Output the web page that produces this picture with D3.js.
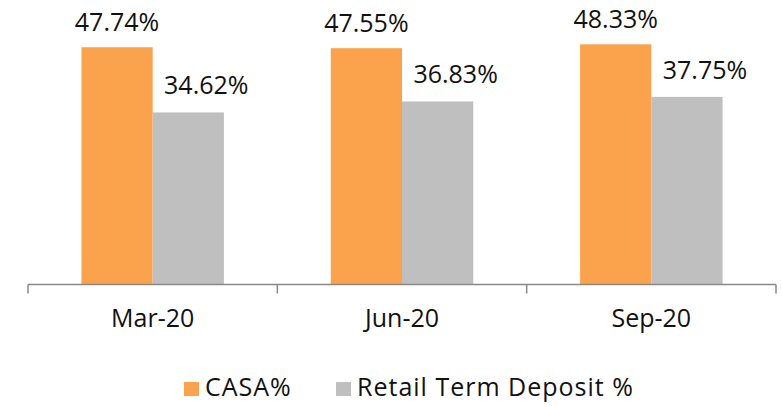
<!DOCTYPE html>
<html lang="en"><head><meta charset="utf-8">
<title>CASA chart</title>
<script type="text/javascript" src="https://cdn.jsdelivr.net/npm/d3@7"></script>
<style>
  body { margin: 0; background: #fff; }
  text { font-family: "Open Sans", sans-serif; fill: #111; }
</style>
</head>
<body>
<script type="text/javascript">
    // data
    var quarters = ["Mar-20", "Jun-20", "Sep-20"];
    var casa = [47.74, 47.55, 48.33];
    var retailTerm = [34.62, 36.83, 37.75];
    var seriesNames = ["CASA%", "Retail Term Deposit %"];
    var seriesColors = ["#FBA24C", "#BFBFBF"];

    var width = 782;
    var height = 407;
    var left = 28, right = 776;
    var baseline = 284.5;

    var svg = d3.select("body").append("svg")
    .attr("width", width)
    .attr("height", height);

    var x = d3.scaleBand().domain(quarters).range([left, right]).paddingInner(0).paddingOuter(0);
    var inner = d3.scaleBand().domain([0, 1]).range([0, x.bandwidth()]).paddingInner(0).paddingOuter(0.75);
    var y = d3.scaleLinear().domain([0, 50]).range([baseline, baseline - 248.5]);

    var rows = quarters.map(function (q, i) {
        return [
            {q: q, s: 0, v: casa[i]},
            {q: q, s: 1, v: retailTerm[i]}
        ];
    });

    var groups = svg.selectAll(".grp")
    .data(rows)
    .enter().append("g")
    .attr("class", "grp")
    .attr("transform", function (d) { return "translate(" + x(d[0].q) + ",0)"; });

    groups.selectAll("rect")
    .data(function (d) { return d; })
    .enter().append("rect")
    .attr("x", function (d) { return inner(d.s); })
    .attr("width", inner.bandwidth())
    .attr("y", function (d) { return y(d.v); })
    .attr("height", function (d) { return baseline - y(d.v); })
    .attr("fill", function (d) { return seriesColors[d.s]; });

    // value labels (grey ones sit a bit to the right, like the original)
    groups.selectAll("text.val")
    .data(function (d) { return d; })
    .enter().append("text")
    .attr("class", "val")
    .attr("text-anchor", "middle")
    .attr("font-size", 25)
    .attr("x", function (d) { return inner(d.s) + inner.bandwidth() / 2 + (d.s == 1 ? 18 : 0); })
    .attr("y", function (d) { return y(d.v) - (d.s == 1 ? 18 : 16); })
    .text(function (d) { return d.v.toFixed(2) + "%"; });

    // category axis
    var axis = d3.axisBottom(x).tickSize(0).tickPadding(34);
    var ax = svg.append("g")
    .attr("transform", "translate(0," + baseline + ")")
    .call(axis);
    ax.select(".domain").remove();
    ax.selectAll("text").attr("font-size", 25).attr("fill", "#111")
    .attr("dy", "0.35em");

    ax.append("line")
    .attr("x1", left).attr("x2", right)
    .attr("stroke", "#898989").attr("stroke-width", 1.5);

    var edges = [left].concat(quarters.map(function (q) { return x(q) + x.bandwidth(); }));
    ax.selectAll(".sep")
    .data(edges)
    .enter().append("line")
    .attr("class", "sep")
    .attr("x1", function (d) { return d; })
    .attr("x2", function (d) { return d; })
    .attr("y1", 0).attr("y2", 9)
    .attr("stroke", "#898989").attr("stroke-width", 1.5);

    // legend
    var legendX = [184, 336];
    var legend = svg.selectAll(".legend")
    .data(seriesNames)
    .enter().append("g")
    .attr("class", "legend")
    .attr("transform", function (d, i) { return "translate(" + legendX[i] + ",382)"; });
    legend.append("rect")
    .attr("width", 15).attr("height", 14)
    .attr("fill", function (d, i) { return seriesColors[i]; });
    legend.append("text")
    .attr("x", 21)
    .attr("y", 14)
    .attr("font-size", 25)
    .attr("letter-spacing", 1)
    .text(function (d) { return d; });
</script>
</body></html>
